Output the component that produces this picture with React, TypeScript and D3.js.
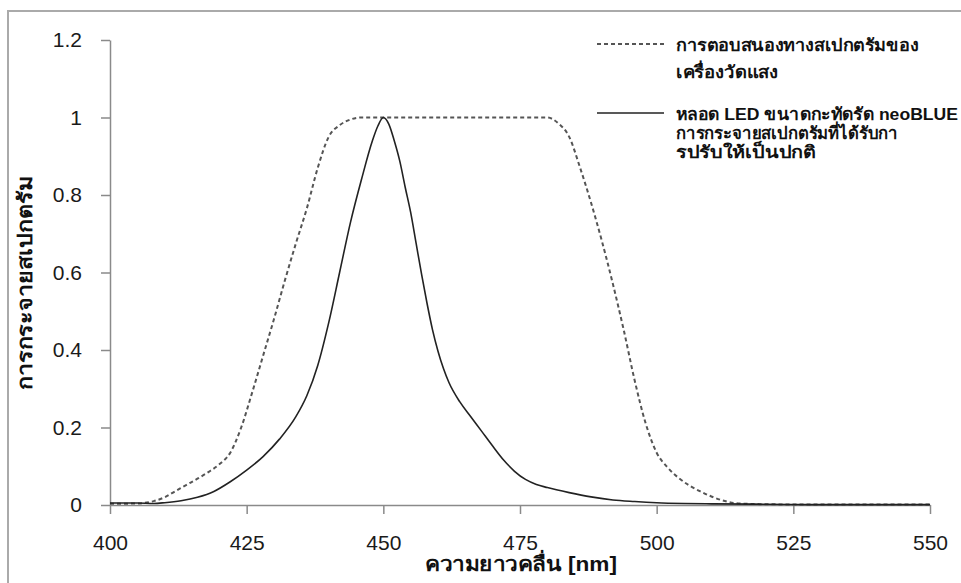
import React, { useEffect, useRef } from 'react';
import * as d3 from 'd3';

// wavelength (nm) and normalised values
const meterNm = [400, 405, 408, 410, 412, 414, 416, 418, 420, 422, 424, 426, 428, 430, 432, 434, 436, 438, 440, 442, 444, 446, 450, 460, 470, 480, 482, 484, 486, 488, 490, 492, 494, 496, 498, 500, 502, 504, 506, 508, 510, 512, 515, 520, 530, 550];
const meterVal = [0.003, 0.004, 0.01, 0.02, 0.036, 0.052, 0.068, 0.085, 0.105, 0.135, 0.2, 0.29, 0.385, 0.48, 0.58, 0.675, 0.765, 0.87, 0.95, 0.98, 0.995, 1, 1, 1, 1, 1, 0.985, 0.95, 0.87, 0.78, 0.68, 0.57, 0.45, 0.32, 0.21, 0.135, 0.097, 0.07, 0.05, 0.035, 0.022, 0.012, 0.004, 0.002, 0.001, 0.001];

const ledNm = [400, 405, 408, 410, 413, 416, 419, 422, 425, 428, 431, 434, 436, 438, 440, 442, 444, 446, 448, 449, 450, 451, 452, 453, 454, 455, 456, 457, 458, 459, 460, 461, 462, 464, 466, 468, 470, 472, 474, 476, 478, 480, 484, 488, 492, 496, 500, 505, 510, 520, 530, 550];
const ledVal = [0.005, 0.005, 0.004, 0.006, 0.011, 0.02, 0.035, 0.06, 0.09, 0.125, 0.17, 0.228, 0.282, 0.36, 0.47, 0.6, 0.73, 0.84, 0.94, 0.978, 1, 0.983, 0.94, 0.888, 0.82, 0.755, 0.675, 0.595, 0.52, 0.452, 0.397, 0.352, 0.316, 0.266, 0.228, 0.19, 0.152, 0.116, 0.087, 0.066, 0.053, 0.045, 0.032, 0.021, 0.013, 0.009, 0.006, 0.004, 0.003, 0.002, 0.001, 0.001];

const xTicks = [400, 425, 450, 475, 500, 525, 550];
const yTicks = [0, 0.2, 0.4, 0.6, 0.8, 1, 1.2];

const legendMeter = ['การตอบสนองทางสเปกตรัมของ', 'เครื่องวัดแสง'];
const legendLed = ['หลอด LED ขนาดกะทัดรัด neoBLUE', 'การกระจายสเปกตรัมที่ได้รับกา', 'รปรับให้เป็นปกติ'];
const xTitle = 'ความยาวคลื่น [nm]';
const yTitle = 'การกระจายสเปกตรัม';

// widths the text takes in the reference (the Thai fallback font here is narrower)
const legendMeterLen = [242, 102];
const legendLedLen = [282, 222, 140];

const W = 961;
const H = 583;
const FONT = "'Liberation Sans', Arial, Helvetica, sans-serif";

const App = () => {
  const xRef = useRef<SVGGElement>(null);
  const yRef = useRef<SVGGElement>(null);

  const x = d3.scaleLinear().domain([400, 550]).range([110, 930]);
  const y = d3.scaleLinear().domain([0, 1.2]).range([505, 40]);

  const line = d3
    .line<[number, number]>()
    .x(d => x(d[0]))
    .y(d => y(d[1]))
    .curve(d3.curveMonotoneX);

  const meterPts = meterNm.map((n, i) => [n, meterVal[i]] as [number, number]);
  const ledPts = ledNm.map((n, i) => [n, ledVal[i]] as [number, number]);

  useEffect(() => {
    // bottom axis
    const gx = d3.select(xRef.current);
    gx.selectAll('*').remove();
    gx.call(
      d3.axisBottom(x).tickValues(xTicks).tickSize(9).tickSizeOuter(0).tickPadding(21).tickFormat(d => String(d))
    );
    // left axis
    const gy = d3.select(yRef.current);
    gy.selectAll('*').remove();
    gy.call(
      d3.axisLeft(y).tickValues(yTicks).tickSize(9).tickSizeOuter(0).tickPadding(19).tickFormat(d => String(Math.round(+d * 10) / 10))
    );
    [gx, gy].forEach(g => {
      g.select('.domain').attr('stroke', '#8a8a8a').attr('stroke-width', 1.5);
      g.selectAll('.tick line').attr('stroke', '#8a8a8a').attr('stroke-width', 1.5);
      g.selectAll('.tick text').attr('fill', '#1a1a1a').attr('font-size', 21).attr('font-family', FONT);
    });
  }, []);

  return (
    <svg
      width={W}
      height={H}
      style={{ position: 'absolute', left: 0, top: 0, background: '#fff' }}
      fontFamily={FONT}
    >
      {/* outer frame, runs off the right and bottom edge */}
      <rect x={8} y={11} width={W} height={H} fill="none" stroke="#aaa" strokeWidth={2} />

      <g ref={xRef} transform={`translate(0, ${y(0)})`} />
      <g ref={yRef} transform={`translate(${x(400)}, 0)`} />

      {/* series */}
      <path d={line(meterPts) || ''} fill="none" stroke="#555" strokeWidth={2} strokeDasharray="4 3" />
      <path d={line(ledPts) || ''} fill="none" stroke="#222" strokeWidth={1.6} />

      {/* legend */}
      <line x1={597} x2={664} y1={44} y2={44} stroke="#555" strokeWidth={2} strokeDasharray="4 3" />
      {legendMeter.map((t, i) => (
        <text key={t} x={676} y={45 + i * 27} dominantBaseline="central" fontSize={17} fontWeight="bold" fill="#111"
          textLength={legendMeterLen[i]} lengthAdjust="spacingAndGlyphs">
          {t}
        </text>
      ))}
      <line x1={597} x2={664} y1={113} y2={113} stroke="#222" strokeWidth={1.6} />
      {legendLed.map((t, i) => (
        <text key={t} x={676} y={114 + i * 19} dominantBaseline="central" fontSize={17} fontWeight="bold" fill="#111"
          textLength={legendLedLen[i]} lengthAdjust="spacingAndGlyphs">
          {t}
        </text>
      ))}

      {/* axis titles */}
      <text x={521} y={571} textAnchor="middle" fontSize={20} fontWeight="bold" fill="#111"
        textLength={192} lengthAdjust="spacingAndGlyphs">
        {xTitle}
      </text>
      <text
        transform={`translate(25, ${283}) rotate(-90)`}
        textAnchor="middle"
        dominantBaseline="central"
        fontSize={20}
        fontWeight="bold"
        fill="#111"
        textLength={214}
        lengthAdjust="spacingAndGlyphs"
      >
        {yTitle}
      </text>
    </svg>
  );
};

export default App;
